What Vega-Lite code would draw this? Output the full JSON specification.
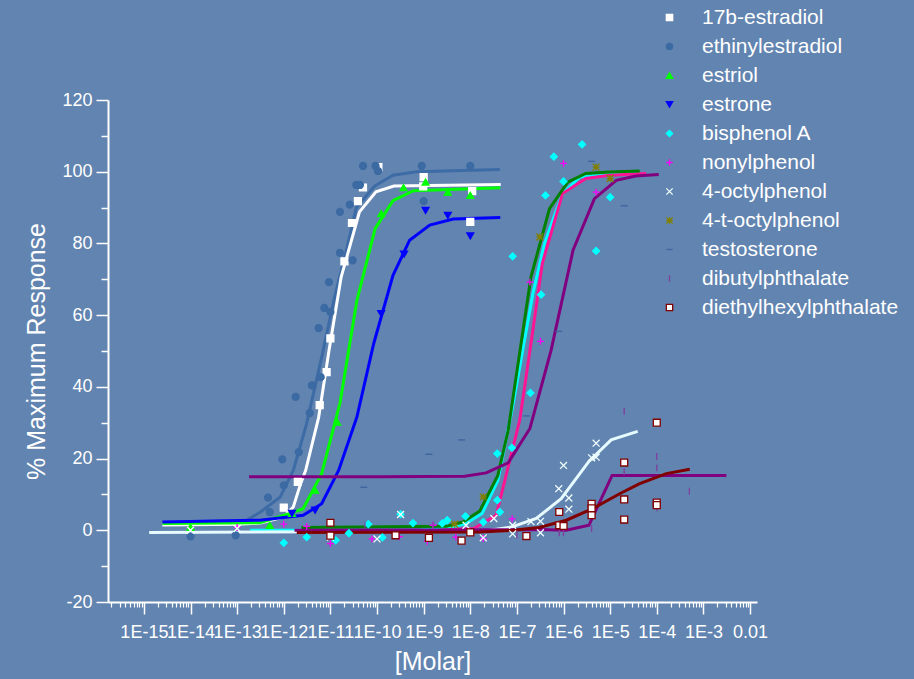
{
  "$schema": "https://vega.github.io/schema/vega-lite/v6.json",
  "width": 649,
  "height": 502,
  "autosize": {"type": "none"},
  "padding": {"left": 108, "top": 100, "right": 157, "bottom": 77},
  "background": "#6284b0",
  "config": {
    "view": {"stroke": null},
    "font": "Liberation Sans",
    "legend": {
      "labelColor": "white",
      "labelFontSize": 21,
      "labelFont": "Liberation Sans",
      "labelLimit": 400,
      "symbolSize": 40,
      "rowPadding": 7,
      "padding": 0,
      "labelOffset": 22,
      "symbolStrokeWidth": 1.3
    }
  },
  "datasets": {
    "fit": [
      {"compound": "ethinylestradiol", "molar": 2.5e-15, "response": 2.2},
      {"compound": "ethinylestradiol", "molar": 1.6e-13, "response": 2.8},
      {"compound": "ethinylestradiol", "molar": 3.1e-13, "response": 5},
      {"compound": "ethinylestradiol", "molar": 8.3e-13, "response": 9.2},
      {"compound": "ethinylestradiol", "molar": 1.6e-12, "response": 16.7},
      {"compound": "ethinylestradiol", "molar": 3.1e-12, "response": 29.8},
      {"compound": "ethinylestradiol", "molar": 6.5e-12, "response": 48.2},
      {"compound": "ethinylestradiol", "molar": 1.23e-11, "response": 65},
      {"compound": "ethinylestradiol", "molar": 2.2e-11, "response": 78},
      {"compound": "ethinylestradiol", "molar": 3.6e-11, "response": 90},
      {"compound": "ethinylestradiol", "molar": 8.9e-11, "response": 96},
      {"compound": "ethinylestradiol", "molar": 2.2e-10, "response": 99},
      {"compound": "ethinylestradiol", "molar": 7.1e-10, "response": 100},
      {"compound": "ethinylestradiol", "molar": 4.3e-8, "response": 100.6},
      {"compound": "17b-estradiol", "molar": 2.5e-15, "response": 1.5},
      {"compound": "17b-estradiol", "molar": 1e-13, "response": 1.7},
      {"compound": "17b-estradiol", "molar": 3.2e-13, "response": 2},
      {"compound": "17b-estradiol", "molar": 1e-12, "response": 3.7},
      {"compound": "17b-estradiol", "molar": 1.6e-12, "response": 6.5},
      {"compound": "17b-estradiol", "molar": 2.3e-12, "response": 13},
      {"compound": "17b-estradiol", "molar": 2.95e-12, "response": 16.7},
      {"compound": "17b-estradiol", "molar": 5.6e-12, "response": 31.5},
      {"compound": "17b-estradiol", "molar": 9.3e-12, "response": 50},
      {"compound": "17b-estradiol", "molar": 1.7e-11, "response": 70.6},
      {"compound": "17b-estradiol", "molar": 4.2e-11, "response": 88.8},
      {"compound": "17b-estradiol", "molar": 9.5e-11, "response": 94.4},
      {"compound": "17b-estradiol", "molar": 2.3e-10, "response": 96},
      {"compound": "17b-estradiol", "molar": 4.5e-8, "response": 96.4},
      {"compound": "estriol", "molar": 2.5e-15, "response": 1.9},
      {"compound": "estriol", "molar": 3.1e-13, "response": 2.1},
      {"compound": "estriol", "molar": 1.35e-12, "response": 4.7},
      {"compound": "estriol", "molar": 2.6e-12, "response": 6},
      {"compound": "estriol", "molar": 6.5e-12, "response": 15.8},
      {"compound": "estriol", "molar": 1.6e-11, "response": 35.4},
      {"compound": "estriol", "molar": 3.7e-11, "response": 64.1},
      {"compound": "estriol", "molar": 9.1e-11, "response": 84.1},
      {"compound": "estriol", "molar": 2.2e-10, "response": 91.9},
      {"compound": "estriol", "molar": 6e-10, "response": 94.7},
      {"compound": "estriol", "molar": 4.4e-8, "response": 95.5},
      {"compound": "estrone", "molar": 2.5e-15, "response": 2.3},
      {"compound": "estrone", "molar": 3.1e-13, "response": 2.8},
      {"compound": "estrone", "molar": 2.6e-12, "response": 4.2},
      {"compound": "estrone", "molar": 6.5e-12, "response": 7.4},
      {"compound": "estrone", "molar": 1.5e-11, "response": 16.7},
      {"compound": "estrone", "molar": 3.7e-11, "response": 31.6},
      {"compound": "estrone", "molar": 8.5e-11, "response": 52.1},
      {"compound": "estrone", "molar": 2.2e-10, "response": 71.1},
      {"compound": "estrone", "molar": 5e-10, "response": 80.9},
      {"compound": "estrone", "molar": 1.35e-9, "response": 85.1},
      {"compound": "estrone", "molar": 4.3e-9, "response": 86.8},
      {"compound": "estrone", "molar": 4.4e-8, "response": 87.2},
      {"compound": "bisphenol A", "molar": 1.9e-13, "response": 0},
      {"compound": "bisphenol A", "molar": 8.1e-10, "response": 0.1},
      {"compound": "bisphenol A", "molar": 3.6e-9, "response": 0.8},
      {"compound": "bisphenol A", "molar": 8.1e-9, "response": 1.9},
      {"compound": "bisphenol A", "molar": 1.8e-8, "response": 4.7},
      {"compound": "bisphenol A", "molar": 3.9e-8, "response": 13.9},
      {"compound": "bisphenol A", "molar": 8.1e-8, "response": 34.4},
      {"compound": "bisphenol A", "molar": 2.2e-7, "response": 66},
      {"compound": "bisphenol A", "molar": 3.9e-7, "response": 80},
      {"compound": "bisphenol A", "molar": 9.5e-7, "response": 93.9},
      {"compound": "bisphenol A", "molar": 2.2e-6, "response": 98.5},
      {"compound": "bisphenol A", "molar": 5e-6, "response": 99},
      {"compound": "bisphenol A", "molar": 3.5e-5, "response": 99.5},
      {"compound": "nonylphenol", "molar": 2.2e-9, "response": 0},
      {"compound": "nonylphenol", "molar": 1.2e-8, "response": 0.5},
      {"compound": "nonylphenol", "molar": 3.6e-8, "response": 4.2},
      {"compound": "nonylphenol", "molar": 1.15e-7, "response": 30.7},
      {"compound": "nonylphenol", "molar": 2.2e-7, "response": 55.8},
      {"compound": "nonylphenol", "molar": 3.5e-7, "response": 74.4},
      {"compound": "nonylphenol", "molar": 9.5e-7, "response": 93.9},
      {"compound": "nonylphenol", "molar": 3e-6, "response": 98.1},
      {"compound": "nonylphenol", "molar": 9.5e-6, "response": 99},
      {"compound": "nonylphenol", "molar": 5.9e-5, "response": 99.5},
      {"compound": "4-octylphenol", "molar": 1.3e-15, "response": -0.6},
      {"compound": "4-octylphenol", "molar": 9.8e-9, "response": -0.3},
      {"compound": "4-octylphenol", "molar": 2.6e-8, "response": 0},
      {"compound": "4-octylphenol", "molar": 7.6e-8, "response": 0.9},
      {"compound": "4-octylphenol", "molar": 2.6e-7, "response": 3.3},
      {"compound": "4-octylphenol", "molar": 8.9e-7, "response": 8.8},
      {"compound": "4-octylphenol", "molar": 3.5e-6, "response": 19.2},
      {"compound": "4-octylphenol", "molar": 1.05e-5, "response": 25.2},
      {"compound": "4-octylphenol", "molar": 3.9e-5, "response": 27.6},
      {"compound": "4-t-octylphenol", "molar": 2.4e-12, "response": 0.8},
      {"compound": "4-t-octylphenol", "molar": 3.1e-9, "response": 1.1},
      {"compound": "4-t-octylphenol", "molar": 6.9e-9, "response": 2.3},
      {"compound": "4-t-octylphenol", "molar": 1.6e-8, "response": 5.4},
      {"compound": "4-t-octylphenol", "molar": 3.9e-8, "response": 15.3},
      {"compound": "4-t-octylphenol", "molar": 6.5e-8, "response": 27.9},
      {"compound": "4-t-octylphenol", "molar": 2e-7, "response": 70.6},
      {"compound": "4-t-octylphenol", "molar": 5e-7, "response": 89.7},
      {"compound": "4-t-octylphenol", "molar": 1.23e-6, "response": 97.1},
      {"compound": "4-t-octylphenol", "molar": 3e-6, "response": 99.5},
      {"compound": "4-t-octylphenol", "molar": 9.5e-6, "response": 99.9},
      {"compound": "4-t-octylphenol", "molar": 4.3e-5, "response": 100.2},
      {"compound": "testosterone", "molar": 1.8e-13, "response": 14.9},
      {"compound": "testosterone", "molar": 1.15e-10, "response": 14.9},
      {"compound": "testosterone", "molar": 7.6e-9, "response": 15.1},
      {"compound": "testosterone", "molar": 2.2e-8, "response": 16},
      {"compound": "testosterone", "molar": 6.5e-8, "response": 18.8},
      {"compound": "testosterone", "molar": 1.9e-7, "response": 28.4},
      {"compound": "testosterone", "molar": 5.4e-7, "response": 50.2},
      {"compound": "testosterone", "molar": 1.6e-6, "response": 78.1},
      {"compound": "testosterone", "molar": 4.6e-6, "response": 92.5},
      {"compound": "testosterone", "molar": 1.35e-5, "response": 97.6},
      {"compound": "testosterone", "molar": 3.5e-5, "response": 98.8},
      {"compound": "testosterone", "molar": 1.1e-4, "response": 99.2},
      {"compound": "dibutylphthalate", "molar": 1.7e-12, "response": 0},
      {"compound": "dibutylphthalate", "molar": 3e-7, "response": 0.2},
      {"compound": "dibutylphthalate", "molar": 1.15e-6, "response": 0},
      {"compound": "dibutylphthalate", "molar": 3.5e-6, "response": 1.4},
      {"compound": "dibutylphthalate", "molar": 1.1e-5, "response": 15.3},
      {"compound": "dibutylphthalate", "molar": 3.1e-3, "response": 15.3},
      {"compound": "diethylhexylphthalate", "molar": 1.9e-12, "response": -0.6},
      {"compound": "diethylhexylphthalate", "molar": 1.6e-8, "response": -0.5},
      {"compound": "diethylhexylphthalate", "molar": 8.1e-8, "response": 0},
      {"compound": "diethylhexylphthalate", "molar": 3e-7, "response": 0.8},
      {"compound": "diethylhexylphthalate", "molar": 1.15e-6, "response": 2.8},
      {"compound": "diethylhexylphthalate", "molar": 4.3e-6, "response": 6.1},
      {"compound": "diethylhexylphthalate", "molar": 1.6e-5, "response": 10.2},
      {"compound": "diethylhexylphthalate", "molar": 4.3e-5, "response": 13},
      {"compound": "diethylhexylphthalate", "molar": 1.6e-4, "response": 15.8},
      {"compound": "diethylhexylphthalate", "molar": 5.1e-4, "response": 17}
    ],
    "pts": [
      {"compound": "17b-estradiol", "molar": 1e-12, "response": 6.3},
      {"compound": "17b-estradiol", "molar": 2e-12, "response": 13.5},
      {"compound": "17b-estradiol", "molar": 5.9e-12, "response": 34.9},
      {"compound": "17b-estradiol", "molar": 8.3e-12, "response": 44.1},
      {"compound": "17b-estradiol", "molar": 1e-11, "response": 53.5},
      {"compound": "17b-estradiol", "molar": 2e-11, "response": 75},
      {"compound": "17b-estradiol", "molar": 2.9e-11, "response": 85.7},
      {"compound": "17b-estradiol", "molar": 3.9e-11, "response": 91.8},
      {"compound": "17b-estradiol", "molar": 5e-11, "response": 95.6},
      {"compound": "17b-estradiol", "molar": 1.07e-10, "response": 101.3},
      {"compound": "17b-estradiol", "molar": 1e-9, "response": 98.5},
      {"compound": "17b-estradiol", "molar": 9.8e-10, "response": 95.9},
      {"compound": "17b-estradiol", "molar": 1e-8, "response": 86},
      {"compound": "17b-estradiol", "molar": 1.1e-8, "response": 94.6},
      {"compound": "ethinylestradiol", "molar": 1e-14, "response": -1.7},
      {"compound": "ethinylestradiol", "molar": 9.3e-14, "response": -1.4},
      {"compound": "ethinylestradiol", "molar": 5e-13, "response": 5.1},
      {"compound": "ethinylestradiol", "molar": 4.6e-13, "response": 9.1},
      {"compound": "ethinylestradiol", "molar": 1e-12, "response": 12.5},
      {"compound": "ethinylestradiol", "molar": 9.3e-13, "response": 19.8},
      {"compound": "ethinylestradiol", "molar": 2.1e-12, "response": 21.8},
      {"compound": "ethinylestradiol", "molar": 1.8e-12, "response": 37.2},
      {"compound": "ethinylestradiol", "molar": 3.6e-12, "response": 32.7},
      {"compound": "ethinylestradiol", "molar": 4e-12, "response": 40.4},
      {"compound": "ethinylestradiol", "molar": 6.2e-12, "response": 42.7},
      {"compound": "ethinylestradiol", "molar": 5.6e-12, "response": 56.4},
      {"compound": "ethinylestradiol", "molar": 7.4e-12, "response": 62},
      {"compound": "ethinylestradiol", "molar": 1e-11, "response": 60.9},
      {"compound": "ethinylestradiol", "molar": 9.3e-12, "response": 69.2},
      {"compound": "ethinylestradiol", "molar": 1.6e-11, "response": 77.4},
      {"compound": "ethinylestradiol", "molar": 3e-11, "response": 75.3},
      {"compound": "ethinylestradiol", "molar": 1.6e-11, "response": 88.8},
      {"compound": "ethinylestradiol", "molar": 2.6e-11, "response": 90.8},
      {"compound": "ethinylestradiol", "molar": 3.6e-11, "response": 96.3},
      {"compound": "ethinylestradiol", "molar": 4.3e-11, "response": 96.3},
      {"compound": "ethinylestradiol", "molar": 5e-11, "response": 101.6},
      {"compound": "ethinylestradiol", "molar": 9.3e-11, "response": 101.6},
      {"compound": "ethinylestradiol", "molar": 1.05e-10, "response": 100.2},
      {"compound": "ethinylestradiol", "molar": 9.1e-10, "response": 101.6},
      {"compound": "ethinylestradiol", "molar": 1e-9, "response": 91.8},
      {"compound": "ethinylestradiol", "molar": 1e-8, "response": 101.6},
      {"compound": "estriol", "molar": 1e-14, "response": 0.8},
      {"compound": "estriol", "molar": 5e-13, "response": 1.4},
      {"compound": "estriol", "molar": 1.5e-12, "response": 4.7},
      {"compound": "estriol", "molar": 4.7e-12, "response": 11.2},
      {"compound": "estriol", "molar": 1.4e-11, "response": 30.2},
      {"compound": "estriol", "molar": 1.23e-10, "response": 88.3},
      {"compound": "estriol", "molar": 3.7e-10, "response": 95.6},
      {"compound": "estriol", "molar": 1.1e-9, "response": 97.1},
      {"compound": "estriol", "molar": 3.3e-9, "response": 94.3},
      {"compound": "estriol", "molar": 1e-8, "response": 93.4},
      {"compound": "estrone", "molar": 1.5e-12, "response": 4.7},
      {"compound": "estrone", "molar": 4.7e-12, "response": 5.6},
      {"compound": "estrone", "molar": 1.23e-10, "response": 60.4},
      {"compound": "estrone", "molar": 3.8e-10, "response": 77},
      {"compound": "estrone", "molar": 1.1e-9, "response": 89.2},
      {"compound": "estrone", "molar": 3.3e-9, "response": 87.8},
      {"compound": "estrone", "molar": 1e-8, "response": 82.1},
      {"compound": "bisphenol A", "molar": 1e-12, "response": -3.5},
      {"compound": "bisphenol A", "molar": 3.1e-12, "response": -1.9},
      {"compound": "bisphenol A", "molar": 1.3e-11, "response": -2.8},
      {"compound": "bisphenol A", "molar": 2.5e-11, "response": -0.8},
      {"compound": "bisphenol A", "molar": 6.5e-11, "response": 1.7},
      {"compound": "bisphenol A", "molar": 1.3e-10, "response": -2},
      {"compound": "bisphenol A", "molar": 3.2e-10, "response": 4.5},
      {"compound": "bisphenol A", "molar": 5.9e-10, "response": 2},
      {"compound": "bisphenol A", "molar": 2.5e-9, "response": 1.9},
      {"compound": "bisphenol A", "molar": 3.2e-9, "response": 2.8},
      {"compound": "bisphenol A", "molar": 7.9e-9, "response": 3.9},
      {"compound": "bisphenol A", "molar": 1.9e-8, "response": 2.3},
      {"compound": "bisphenol A", "molar": 3.8e-8, "response": 8.4},
      {"compound": "bisphenol A", "molar": 4.3e-8, "response": 5.1},
      {"compound": "bisphenol A", "molar": 3.8e-8, "response": 21.4},
      {"compound": "bisphenol A", "molar": 7.8e-8, "response": 23},
      {"compound": "bisphenol A", "molar": 8.1e-8, "response": 76.4},
      {"compound": "bisphenol A", "molar": 1.95e-7, "response": 38.3},
      {"compound": "bisphenol A", "molar": 3.3e-7, "response": 65.7},
      {"compound": "bisphenol A", "molar": 4.1e-7, "response": 93.4},
      {"compound": "bisphenol A", "molar": 6.2e-7, "response": 104.2},
      {"compound": "bisphenol A", "molar": 1e-6, "response": 97.3},
      {"compound": "bisphenol A", "molar": 2.5e-6, "response": 107.6},
      {"compound": "bisphenol A", "molar": 5e-6, "response": 77.9},
      {"compound": "bisphenol A", "molar": 1e-5, "response": 92.9},
      {"compound": "nonylphenol", "molar": 1e-13, "response": 0.8},
      {"compound": "nonylphenol", "molar": 1e-12, "response": 1.7},
      {"compound": "nonylphenol", "molar": 3.1e-12, "response": 1.1},
      {"compound": "nonylphenol", "molar": 1e-11, "response": -3.7},
      {"compound": "nonylphenol", "molar": 7.8e-11, "response": -2.4},
      {"compound": "nonylphenol", "molar": 3e-10, "response": -1.8},
      {"compound": "nonylphenol", "molar": 1.2e-9, "response": -3.1},
      {"compound": "nonylphenol", "molar": 1.6e-9, "response": 1.4},
      {"compound": "nonylphenol", "molar": 4.9e-9, "response": -1.9},
      {"compound": "nonylphenol", "molar": 1.9e-8, "response": -2.3},
      {"compound": "nonylphenol", "molar": 7.9e-8, "response": 3.2},
      {"compound": "nonylphenol", "molar": 1.9e-7, "response": 69.2},
      {"compound": "nonylphenol", "molar": 3.2e-7, "response": 52.7},
      {"compound": "nonylphenol", "molar": 1e-6, "response": 102.3},
      {"compound": "nonylphenol", "molar": 5e-6, "response": 94.3},
      {"compound": "4-octylphenol", "molar": 1e-14, "response": 0},
      {"compound": "4-octylphenol", "molar": 1e-13, "response": 0.5},
      {"compound": "4-octylphenol", "molar": 1e-11, "response": -1.9},
      {"compound": "4-octylphenol", "molar": 1e-10, "response": -2.4},
      {"compound": "4-octylphenol", "molar": 3.2e-10, "response": 4.4},
      {"compound": "4-octylphenol", "molar": 8.1e-9, "response": 1.4},
      {"compound": "4-octylphenol", "molar": 1.9e-8, "response": -2.1},
      {"compound": "4-octylphenol", "molar": 3.2e-8, "response": 3.3},
      {"compound": "4-octylphenol", "molar": 8.1e-8, "response": 1.4},
      {"compound": "4-octylphenol", "molar": 8.1e-8, "response": -1},
      {"compound": "4-octylphenol", "molar": 2e-7, "response": 2.4},
      {"compound": "4-octylphenol", "molar": 3.2e-7, "response": 2.5},
      {"compound": "4-octylphenol", "molar": 3.2e-7, "response": -0.7},
      {"compound": "4-octylphenol", "molar": 7.9e-7, "response": 11.6},
      {"compound": "4-octylphenol", "molar": 1e-6, "response": 18.1},
      {"compound": "4-octylphenol", "molar": 1.3e-6, "response": 9},
      {"compound": "4-octylphenol", "molar": 1.3e-6, "response": 5.9},
      {"compound": "4-octylphenol", "molar": 4e-6, "response": 20.2},
      {"compound": "4-octylphenol", "molar": 5e-6, "response": 20.4},
      {"compound": "4-octylphenol", "molar": 5e-6, "response": 24.3},
      {"compound": "4-t-octylphenol", "molar": 4.6e-9, "response": 1.7},
      {"compound": "4-t-octylphenol", "molar": 1.9e-8, "response": 9.3},
      {"compound": "4-t-octylphenol", "molar": 3.1e-7, "response": 81.8},
      {"compound": "4-t-octylphenol", "molar": 5e-6, "response": 101.3},
      {"compound": "4-t-octylphenol", "molar": 1e-5, "response": 98.1},
      {"compound": "testosterone", "molar": 5.2e-11, "response": 12},
      {"compound": "testosterone", "molar": 1.3e-9, "response": 21.2},
      {"compound": "testosterone", "molar": 6.5e-9, "response": 25.2},
      {"compound": "testosterone", "molar": 1.6e-7, "response": 31.9},
      {"compound": "testosterone", "molar": 7.9e-7, "response": 55.5},
      {"compound": "testosterone", "molar": 4e-6, "response": 102.9},
      {"compound": "testosterone", "molar": 2e-5, "response": 90.5},
      {"compound": "dibutylphthalate", "molar": 5.5e-11, "response": 1.3},
      {"compound": "dibutylphthalate", "molar": 1.6e-9, "response": 1.4},
      {"compound": "dibutylphthalate", "molar": 1e-7, "response": -1.3},
      {"compound": "dibutylphthalate", "molar": 8.1e-7, "response": -0.7},
      {"compound": "dibutylphthalate", "molar": 1e-6, "response": -0.7},
      {"compound": "dibutylphthalate", "molar": 4e-6, "response": 0.5},
      {"compound": "dibutylphthalate", "molar": 4e-6, "response": 7.4},
      {"compound": "dibutylphthalate", "molar": 2e-5, "response": 16.3},
      {"compound": "dibutylphthalate", "molar": 2e-5, "response": 33.2},
      {"compound": "dibutylphthalate", "molar": 1e-4, "response": 20.6},
      {"compound": "dibutylphthalate", "molar": 1e-4, "response": 17.4},
      {"compound": "dibutylphthalate", "molar": 1e-4, "response": 6.3},
      {"compound": "dibutylphthalate", "molar": 5e-4, "response": 10.9},
      {"compound": "diethylhexylphthalate", "molar": 1e-11, "response": 2.1},
      {"compound": "diethylhexylphthalate", "molar": 1e-11, "response": -1.5},
      {"compound": "diethylhexylphthalate", "molar": 2.5e-10, "response": -1.4},
      {"compound": "diethylhexylphthalate", "molar": 1.3e-9, "response": -2.1},
      {"compound": "diethylhexylphthalate", "molar": 6.5e-9, "response": -2.9},
      {"compound": "diethylhexylphthalate", "molar": 1e-8, "response": -0.6},
      {"compound": "diethylhexylphthalate", "molar": 1.6e-7, "response": -1.6},
      {"compound": "diethylhexylphthalate", "molar": 8.1e-7, "response": 5.1},
      {"compound": "diethylhexylphthalate", "molar": 8.1e-7, "response": 1.4},
      {"compound": "diethylhexylphthalate", "molar": 1e-6, "response": 1.2},
      {"compound": "diethylhexylphthalate", "molar": 4e-6, "response": 7.4},
      {"compound": "diethylhexylphthalate", "molar": 4e-6, "response": 6.1},
      {"compound": "diethylhexylphthalate", "molar": 4e-6, "response": 4.2},
      {"compound": "diethylhexylphthalate", "molar": 2e-5, "response": 18.9},
      {"compound": "diethylhexylphthalate", "molar": 2e-5, "response": 8.6},
      {"compound": "diethylhexylphthalate", "molar": 2e-5, "response": 3},
      {"compound": "diethylhexylphthalate", "molar": 1e-4, "response": 30},
      {"compound": "diethylhexylphthalate", "molar": 1e-4, "response": 7.7},
      {"compound": "diethylhexylphthalate", "molar": 1e-4, "response": 7}
    ]
  },
  "layer": [
    {
      "data": {"name": "fit"},
      "mark": {"type": "line", "strokeWidth": 3},
      "encoding": {
        "x": {
          "field": "molar", "type": "quantitative",
          "scale": {"type": "log", "domain": [1.7e-16, 0.0141], "nice": false},
          "axis": {
            "orient": "bottom",
            "values": [1e-15, 1e-14, 1e-13, 1e-12, 1e-11, 1e-10, 1e-9, 1e-8, 1e-7, 1e-6, 1e-5, 1e-4, 1e-3, 1e-2],
            "labelExpr": "datum.value > 0.005 ? '0.01' : '1E' + round(log(datum.value) / LN10)",
            "title": "[Molar]",
            "grid": false,
            "tickSize": 12, "tickWidth": 1.5, "tickColor": "white",
            "domainColor": "white", "domainWidth": 2,
            "labelColor": "white", "labelFontSize": 18, "labelFont": "Liberation Sans",
            "labelPadding": 9, "labelOverlap": false, "labelFlush": false, "labelBound": false,
            "titleColor": "white", "titleFontSize": 25, "titleFontWeight": "normal", "titleFont": "Liberation Sans", "titlePadding": 8
          }
        },
        "y": {
          "field": "response", "type": "quantitative",
          "scale": {"domain": [-20, 120], "nice": false},
          "axis": {
            "orient": "left",
            "values": [-20, 0, 20, 40, 60, 80, 100, 120],
            "labelExpr": "'' + datum.value",
            "title": "% Maximum Response",
            "grid": false,
            "tickSize": 12, "tickWidth": 1.5, "tickColor": "white",
            "domainColor": "white", "domainWidth": 2,
            "labelColor": "white", "labelFontSize": 18, "labelFont": "Liberation Sans",
            "labelPadding": 4, "labelOverlap": false, "labelFlush": false,
            "titleColor": "white", "titleFontSize": 25, "titleFontWeight": "normal", "titleFont": "Liberation Sans", "titlePadding": 12
          }
        },
        "color": {
          "field": "compound", "type": "nominal",
          "scale": {
            "domain": ["17b-estradiol", "ethinylestradiol", "estriol", "estrone", "bisphenol A", "nonylphenol", "4-octylphenol", "4-t-octylphenol", "testosterone", "dibutylphthalate", "diethylhexylphthalate"],
            "range": ["#ffffff", "#3c6ba5", "#00ff00", "#0000ff", "#00ffff", "#ff1493", "#e6fbff", "#008000", "#800080", "#800080", "#800000"]
          },
          "legend": null
        }
      }
    },
    {
      "data": {"name": "pts"},
      "mark": {"type": "point", "filled": true, "size": 48, "strokeWidth": 1.3, "opacity": 1},
      "encoding": {
        "x": {
          "field": "molar", "type": "quantitative",
          "axis": {
            "orient": "bottom",
            "values": [2e-16, 3e-16, 4e-16, 5e-16, 6e-16, 7e-16, 8e-16, 9e-16,
              2e-15, 3e-15, 4e-15, 5e-15, 6e-15, 7e-15, 8e-15, 9e-15,
              2e-14, 3e-14, 4e-14, 5e-14, 6e-14, 7e-14, 8e-14, 9e-14,
              2e-13, 3e-13, 4e-13, 5e-13, 6e-13, 7e-13, 8e-13, 9e-13,
              2e-12, 3e-12, 4e-12, 5e-12, 6e-12, 7e-12, 8e-12, 9e-12,
              2e-11, 3e-11, 4e-11, 5e-11, 6e-11, 7e-11, 8e-11, 9e-11,
              2e-10, 3e-10, 4e-10, 5e-10, 6e-10, 7e-10, 8e-10, 9e-10,
              2e-9, 3e-9, 4e-9, 5e-9, 6e-9, 7e-9, 8e-9, 9e-9,
              2e-8, 3e-8, 4e-8, 5e-8, 6e-8, 7e-8, 8e-8, 9e-8,
              2e-7, 3e-7, 4e-7, 5e-7, 6e-7, 7e-7, 8e-7, 9e-7,
              2e-6, 3e-6, 4e-6, 5e-6, 6e-6, 7e-6, 8e-6, 9e-6,
              2e-5, 3e-5, 4e-5, 5e-5, 6e-5, 7e-5, 8e-5, 9e-5,
              2e-4, 3e-4, 4e-4, 5e-4, 6e-4, 7e-4, 8e-4, 9e-4,
              2e-3, 3e-3, 4e-3, 5e-3, 6e-3, 7e-3, 8e-3, 9e-3],
            "labels": false, "title": null, "domain": false, "grid": false,
            "tickSize": 5, "tickWidth": 1.2, "tickColor": "white"
          }
        },
        "y": {
          "field": "response", "type": "quantitative",
          "axis": {
            "orient": "left",
            "values": [-10, 10, 30, 50, 70, 90, 110],
            "labels": false, "title": null, "domain": false, "grid": false,
            "tickSize": 7, "tickWidth": 1.5, "tickColor": "white"
          }
        },
        "fill": {
          "field": "compound", "type": "nominal",
          "scale": {
            "domain": ["17b-estradiol", "ethinylestradiol", "estriol", "estrone", "bisphenol A", "nonylphenol", "4-octylphenol", "4-t-octylphenol", "testosterone", "dibutylphthalate", "diethylhexylphthalate"],
            "range": ["#ffffff", "#3c6aa3", "#00ff00", "#0000ff", "#00ffff", "transparent", "transparent", "transparent", "transparent", "transparent", "#ffffff"]
          },
          "legend": {"orient": "none", "legendX": 551, "legendY": -93, "title": null}
        },
        "stroke": {
          "field": "compound", "type": "nominal",
          "scale": {
            "domain": ["17b-estradiol", "ethinylestradiol", "estriol", "estrone", "bisphenol A", "nonylphenol", "4-octylphenol", "4-t-octylphenol", "testosterone", "dibutylphthalate", "diethylhexylphthalate"],
            "range": ["#ffffff", "#3c6aa3", "#00ff00", "#0000ff", "#00ffff", "#ff00ff", "#f0ffff", "#808000", "#3d63a0", "#7f3f9f", "#800000"]
          },
          "legend": {"orient": "none", "legendX": 551, "legendY": -93, "title": null}
        },
        "shape": {
          "field": "compound", "type": "nominal",
          "scale": {
            "domain": ["17b-estradiol", "ethinylestradiol", "estriol", "estrone", "bisphenol A", "nonylphenol", "4-octylphenol", "4-t-octylphenol", "testosterone", "dibutylphthalate", "diethylhexylphthalate"],
            "range": ["square", "circle", "triangle-up", "triangle-down", "diamond", "M-1,0H1M0,-1V1", "M-1,-1L1,1M-1,1L1,-1", "M-1,-1L1,1M-1,1L1,-1M-1,0H1M0,-1V1", "M-1,0H1", "M0,-1V1", "square"]
          },
          "legend": {"orient": "none", "legendX": 551, "legendY": -93, "title": null}
        }
      }
    }
  ],
  "resolve": {
    "axis": {"x": "independent", "y": "independent"},
    "scale": {"color": "independent"}
  }
}
